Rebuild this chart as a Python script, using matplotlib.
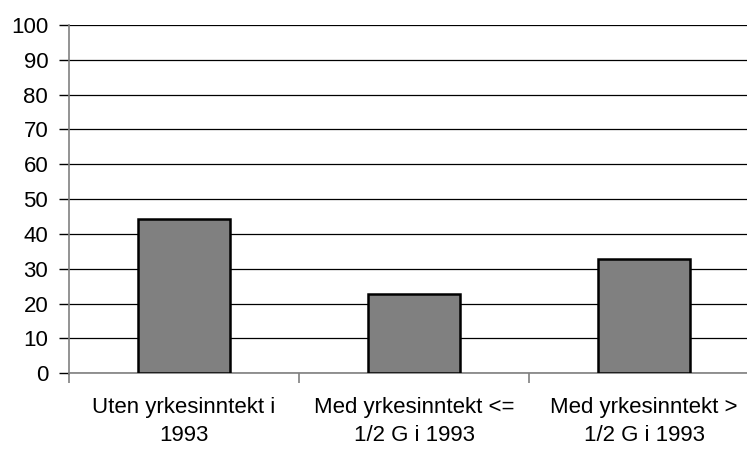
import matplotlib
matplotlib.use("Agg")
import matplotlib.pyplot as plt
from matplotlib.ticker import FixedLocator, NullFormatter

categories = ["Uten yrkesinntekt i\n1993", "Med yrkesinntekt <=\n1/2 G i 1993", "Med yrkesinntekt >\n1/2 G i 1993"]
values = [44.2, 22.9, 32.7]
yticks = list(range(0, 101, 10))

plt.rcParams['font.family'] = ['Liberation Sans', 'DejaVu Sans']

W, H = 747, 450
fig = plt.figure(figsize=(W / 100, H / 100), dpi=100)
left, right, top, bottom = 69, 747, 25, 373.3
ax = fig.add_axes([left / W, 1 - bottom / H, (right - left) / W, (bottom - top) / H])

x = list(range(len(categories)))
ax.bar(x, values, width=0.4, color="#808080", edgecolor="black", linewidth=1.8, zorder=3)

ax.set_ylim(0, 100)
ax.set_xlim(-0.5, 2.5 - 12 / 230)
ax.set_yticks(yticks)
ax.set_yticklabels([str(v) for v in yticks], fontsize=16)
ax.yaxis.grid(True, color="black", linewidth=0.9, zorder=0)

ax.xaxis.set_major_locator(FixedLocator([-0.5, 0.5, 1.5, 2.5]))
ax.xaxis.set_major_formatter(NullFormatter())
ax.xaxis.set_minor_locator(FixedLocator(x))
ax.set_xticklabels(categories, minor=True, fontsize=16, linespacing=1.45)
ax.tick_params(axis="x", which="major", length=7, width=1.2, color="#808080", direction="out")
ax.tick_params(axis="x", which="minor", length=0, pad=17)
ax.tick_params(axis="y", length=7, width=1, color="black", direction="out", pad=8)

for s in ["top", "right"]:
    ax.spines[s].set_visible(False)
ax.spines["left"].set_color("#808080")
ax.spines["left"].set_linewidth(1.2)
ax.spines["bottom"].set_color("#808080")
ax.spines["bottom"].set_linewidth(1.2)

fig.savefig("out.png", dpi=100)
